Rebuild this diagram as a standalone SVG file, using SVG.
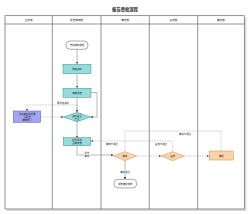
<svg xmlns="http://www.w3.org/2000/svg" width="250" height="214" viewBox="0 0 250 214">
<style>
text{font-family:"Noto Sans CJK SC","Noto Sans",sans-serif;fill:#222;text-anchor:middle;dominant-baseline:central}
.t{font-size:2.4px}
.h{font-size:2.6px}
.title{font-size:4.3px;font-weight:bold}
.lane{stroke:#666;stroke-width:0.7;fill:none}
.teal{fill:#96dcdc;stroke:#3e8f90;stroke-width:0.5}
.purple{fill:#a3a6f2;stroke:#5458b8;stroke-width:0.5}
.peach{fill:#fbd3a9;stroke:#c58c55;stroke-width:0.5}
.term{fill:#fff;stroke:#555;stroke-width:0.5}
.c{fill:none;stroke:#8a8a8a;stroke-width:0.6}
.d{fill:none;stroke:#9a9a9a;stroke-width:0.6;stroke-dasharray:0.8 0.8}
.lb{fill:#fff}
</style>
<defs>
<marker id="a" viewBox="0 0 6 6" refX="6" refY="3" markerWidth="2.2" markerHeight="2.2" markerUnits="userSpaceOnUse" orient="auto">
<path d="M0 0 L6 3 L0 6 Z" fill="#333"/>
</marker>
</defs>
<rect width="250" height="214" fill="#fff"/>
<text class="title" x="125" y="9">报告审批流程</text>
<g id="lanes">
<rect x="7" y="17.7" width="239.5" height="193.3" fill="#ddd"/>
<rect x="5" y="15.7" width="239.3" height="193.3" fill="#fff" stroke="#666" stroke-width="0.7"/>
<path class="lane" d="M5 24H244.3M52.3 15.7V209M101 15.7V209M149.3 15.7V209M197.7 15.7V209"/>
<text class="h" x="28.6" y="20">业务部</text>
<text class="h" x="76.6" y="20">报告编制部</text>
<text class="h" x="125.1" y="20">审核部</text>
<text class="h" x="173.5" y="20">复核部</text>
<text class="h" x="221" y="20">审批部</text>
</g>
<g id="connectors">
<path class="c" d="M77 49V64" marker-end="url(#a)"/>
<path class="c" d="M77 74V88" marker-end="url(#a)"/>
<path class="c" d="M77 97V112.3" marker-end="url(#a)"/>
<path class="c" d="M91 92.5H97V117H90.7" marker-end="url(#a)"/>
<path class="d" d="M77 112.3V105H27V111" marker-end="url(#a)"/>
<path class="d" d="M41 117H63.3" marker-end="url(#a)"/>
<path class="c" d="M77 121.7V138" marker-end="url(#a)"/>
<path class="c" d="M77 146V155H113.3" marker-end="url(#a)"/>
<path class="d" d="M125 151.7V141H91" marker-end="url(#a)"/>
<path class="d" d="M221 151V131H125V141"/>
<path class="d" d="M172.7 151.7V141H125"/>
<path class="d" d="M136.7 156H161" marker-end="url(#a)"/>
<path class="d" d="M184.3 156H209" marker-end="url(#a)"/>
<path class="c" d="M125 160.7V179.3" marker-end="url(#a)"/>
<rect class="lb" x="56" y="101.8" width="14" height="2.6"/>
<text class="t" x="63" y="103.1">需补充资料</text>
<rect class="lb" x="84" y="151.8" width="6" height="6"/>
<text class="t" x="87" y="153.4">提交</text>
<text class="t" x="87" y="156.4">审核</text>
<text class="t" x="112" y="144">审核不通过</text>
<text class="t" x="161" y="144">复核不通过</text>
<text class="t" x="185" y="133.5">审批不通过</text>
<rect class="lb" x="119.5" y="170.2" width="11" height="2.6"/>
<text class="t" x="125" y="171.5">审核通过</text>
</g>
<g id="start"><rect class="term" x="66" y="41" width="22" height="8.3" rx="4"/><text class="t" x="77" y="45.2">开始编制报告</text></g>
<g id="collect"><rect class="teal" x="63" y="64.3" width="28" height="9.4"/><text class="t" x="77" y="69">收集资料</text></g>
<g id="draft"><rect class="teal" x="63" y="88.3" width="28" height="9"/><text class="t" x="77" y="92.8">编制报告</text></g>
<g id="selfcheck"><path class="teal" d="M63.3 117L77 112.3L90.7 117L77 121.7Z"/><text class="t" x="77" y="115.7">资料是否</text><text class="t" x="77" y="118.5">齐全</text></g>
<g id="supplement"><rect class="purple" x="13.3" y="111" width="27.4" height="11.3"/><text class="t" x="27" y="113.6">补充资料并反馈</text><text class="t" x="27" y="116.6">至报告</text><text class="t" x="27" y="119.6">编制部门</text></g>
<g id="submit"><rect class="teal" x="63.3" y="137.7" width="27.4" height="8"/><text class="t" x="77" y="140.4">提交报告</text><text class="t" x="77" y="143.2">至审核部</text></g>
<g id="review"><path class="peach" d="M113.3 156L125 151.7L136.7 156L125 160.7Z"/><text class="t" x="125" y="156.2">审核</text></g>
<g id="recheck"><path class="peach" d="M161 156L172.7 151.7L184.3 156L172.7 160.7Z"/><text class="t" x="172.7" y="156.2">复核</text></g>
<g id="approve"><rect class="peach" x="209.3" y="151" width="24" height="9"/><text class="t" x="221.3" y="155.5">审批</text></g>
<g id="end"><rect class="term" x="114" y="179.3" width="22.7" height="8.6" rx="4"/><text class="t" x="125.3" y="183.6">报告审批完成</text></g>
</svg>
